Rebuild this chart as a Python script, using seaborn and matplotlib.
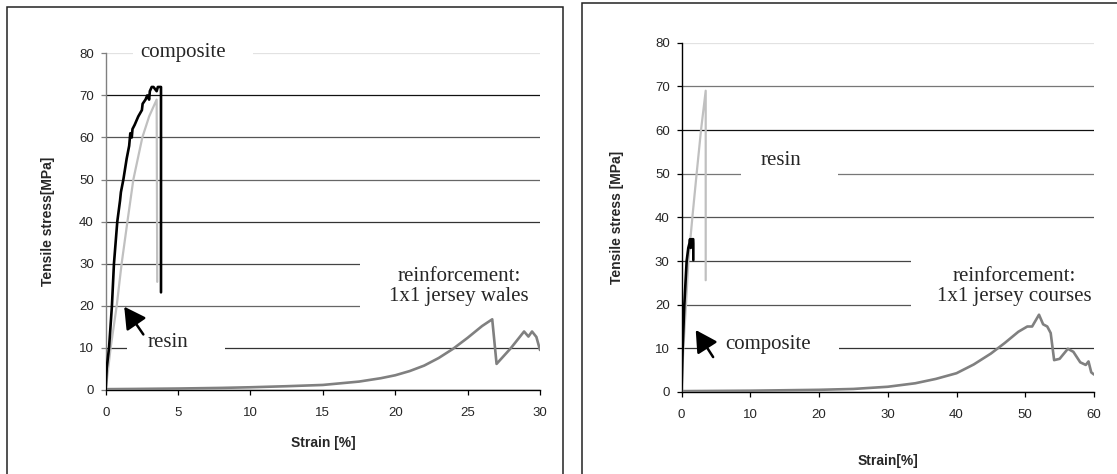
import numpy as np
import pandas as pd
import matplotlib
matplotlib.use("Agg")
import matplotlib.pyplot as plt
from matplotlib.patches import Rectangle
import seaborn as sns

# ---------------- data ----------------
# Left panel: reinforcement 1x1 jersey wales
left_comp_x = [0, 0.07, 0.23, 0.43, 0.57, 0.80, 0.99, 1.05, 1.22, 1.45, 1.62, 1.70, 1.80,
               1.85, 2.00, 2.25, 2.50, 2.55, 2.75, 2.87, 3.00, 3.05, 3.18, 3.30, 3.52, 3.60,
               3.82, 3.82]
left_comp_y = [0, 5.2, 10, 20, 30, 40, 45, 47, 50, 55, 58, 61, 60,
               62, 63, 65, 66.5, 68, 69, 70, 69, 71, 72, 72, 71, 72,
               72, 23.2]
left_resin_x = [0, 0.34, 0.76, 1.10, 1.50, 1.91, 2.53, 3.00, 3.52, 3.56]
left_resin_y = [0, 10, 20, 30, 40, 50, 60, 65, 69, 25.7]
left_reinf_x = [0, 2, 5, 8, 10, 12.5, 15, 17.5, 19, 20, 21, 22, 23, 24, 25, 26, 26.7,
                27.0, 28, 28.9, 29.2, 29.45, 29.75, 30]
left_reinf_y = [0.2, 0.25, 0.35, 0.5, 0.65, 0.9, 1.2, 2.0, 2.8, 3.5, 4.5, 5.8, 7.6, 9.8,
                12.4, 15.2, 16.8, 6.2, 10.0, 13.9, 12.7, 13.9, 12.6, 9.5]

# Right panel: reinforcement 1x1 jersey courses
right_comp_x = [0, 0.17, 0.41, 0.75, 0.99, 1.15, 1.24, 1.35, 1.40, 1.50, 1.60, 1.70, 1.72, 1.72]
right_comp_y = [0, 10, 20, 30, 33, 34, 35, 33, 35, 34, 35, 35, 34, 30.2]
right_resin_x = [0, 0.27, 0.65, 1.00, 1.58, 2.20, 2.84, 3.52, 3.52]
right_resin_y = [0, 10, 20, 30, 40, 50, 60, 69, 25.6]
right_reinf_x = [0, 5, 10, 15, 20, 25, 30, 34, 37, 40, 42.5, 45, 47, 49, 50.3, 51.0, 52.0,
                 52.6, 53.2, 53.7, 54.2, 55.0, 56.2, 57.0, 58.0, 58.8, 59.2, 59.6, 60]
right_reinf_y = [0.2, 0.25, 0.3, 0.4, 0.5, 0.7, 1.2, 2.0, 3.0, 4.3, 6.3, 8.8, 11.2, 13.8,
                 15.0, 15.0, 17.7, 15.5, 15.0, 13.5, 7.3, 7.6, 9.9, 9.2, 6.8, 6.2, 7.0, 4.5, 4.0]

y_ticks = [0, 10, 20, 30, 40, 50, 60, 70, 80]
left_x_ticks = [0, 5, 10, 15, 20, 25, 30]
right_x_ticks = [0, 10, 20, 30, 40, 50, 60]

left_xlabel = "Strain [%]"
right_xlabel = "Strain[%]"
left_ylabel = "Tensile stress[MPa]"
right_ylabel = "Tensile stress [MPa]"

# ---------------- style ----------------
sns.set_theme(style="white")
plt.rcParams["font.family"] = ["Liberation Sans", "DejaVu Sans"]
SERIF = ["Liberation Serif", "DejaVu Serif"]

C_COMP = "#000000"
C_RESIN = "#c0c0c0"
C_REINF = "#808080"

fig = plt.figure(figsize=(11.17, 4.74), dpi=100)
W, H = 1117, 474


def ax_rect(x0, x1, ytop, ybot):
    return [x0 / W, 1 - ybot / H, (x1 - x0) / W, (ybot - ytop) / H]


axL = fig.add_axes(ax_rect(105.7, 540, 53.3, 390))
axR = fig.add_axes(ax_rect(681.5, 1094, 42.7, 392))

# outer frames around each panel
fig.add_artist(Rectangle((7.3 / W, -0.05), (562.7 - 7.3) / W, 1.05 - 6.7 / H,
                         transform=fig.transFigure, fill=False, edgecolor="#222222", lw=1.1))
fig.add_artist(Rectangle((581.7 / W, -0.05), 0.5, 1.05 - 2.7 / H,
                         transform=fig.transFigure, fill=False, edgecolor="#222222", lw=1.1))


def draw(ax, cx, cy, rx, ry, fx, fy):
    df_f = pd.DataFrame({"x": fx, "y": fy})
    df_r = pd.DataFrame({"x": rx, "y": ry})
    df_c = pd.DataFrame({"x": cx, "y": cy})
    sns.lineplot(data=df_f, x="x", y="y", sort=False, estimator=None, ax=ax,
                 color=C_REINF, lw=1.9, zorder=3)
    sns.lineplot(data=df_r, x="x", y="y", sort=False, estimator=None, ax=ax,
                 color=C_RESIN, lw=1.6, zorder=3)
    sns.lineplot(data=df_c, x="x", y="y", sort=False, estimator=None, ax=ax,
                 color=C_COMP, lw=1.9, zorder=4)


draw(axL, left_comp_x, left_comp_y, left_resin_x, left_resin_y, left_reinf_x, left_reinf_y)
draw(axR, right_comp_x, right_comp_y, right_resin_x, right_resin_y, right_reinf_x, right_reinf_y)

grid_colors = {
    axL: ["#444444", "#333333", "#666666", "#444444", "#333333", "#666666", "#555555", "#111111", "#e2e2e2"],
    axR: ["#444444", "#333333", "#555555", "#444444", "#555555", "#777777", "#111111", "#777777", "#e2e2e2"],
}

for ax, xt, xl, yl, spine_l, xlab_y, ylab_x in [
    (axL, left_x_ticks, left_xlabel, left_ylabel, "#808080", -0.157, -0.133),
    (axR, right_x_ticks, right_xlabel, right_ylabel, "#000000", -0.1975, -0.156),
]:
    ax.set_xlim(xt[0], xt[-1])
    ax.set_ylim(y_ticks[0], y_ticks[-1])
    ax.set_xticks(xt)
    ax.set_yticks(y_ticks)
    ax.set_axisbelow(True)
    ax.grid(axis="y", lw=0.9)
    ax.grid(axis="x", visible=False)
    for gl, c in zip(ax.yaxis.get_gridlines(), grid_colors[ax]):
        gl.set_color(c)
    for s in ["top", "right"]:
        ax.spines[s].set_visible(False)
    ax.spines["left"].set_color(spine_l)
    ax.spines["bottom"].set_color("#000000")
    ax.spines["left"].set_linewidth(1.0)
    ax.spines["bottom"].set_linewidth(1.0)
    ax.tick_params(axis="y", direction="out", length=3.5, width=0.9, color=spine_l,
                   labelsize=9.5, pad=5, left=True)
    ax.tick_params(axis="x", direction="out", length=3.5, width=0.9, color="#000000",
                   labelsize=9.5, pad=9, bottom=True)
    ax.set_xlabel(xl, fontsize=10, fontweight="bold")
    ax.set_ylabel(yl, fontsize=10, fontweight="bold")
    ax.xaxis.set_label_coords(0.5, xlab_y)
    ax.xaxis.label.set_va("center")
    ax.yaxis.set_label_coords(ylab_x, 0.5)
    ax.yaxis.label.set_va("center")


def label(ax, x, y, s, box):
    bx0, bx1, by0, by1 = box
    ax.add_patch(Rectangle((bx0, by0), bx1 - bx0, by1 - by0, facecolor="white",
                           edgecolor="none", zorder=1.5, clip_on=False))
    ax.text(x, y, s, family=SERIF, fontsize=15, ha="center", va="center",
            linespacing=1.05, zorder=5)


ARROW = dict(arrowstyle="-|>,head_length=0.65,head_width=0.36", mutation_scale=20,
             color="black", lw=1.8, shrinkA=0, shrinkB=0)

# left panel annotations
label(axL, 5.37, 80.3, "composite", (1.9, 10.2, 77, 83.5))
label(axL, 4.3, 11.2, "resin", (1.46, 8.24, 5, 16))
label(axL, 24.4, 24.6, "reinforcement:\n1x1 jersey wales", (17.6, 30.6, 18, 32))
axL.annotate("", xy=(1.28, 19.8), xytext=(2.6, 13.2), arrowprops=ARROW, zorder=6)

# right panel annotations
label(axR, 14.47, 53.1, "resin", (8.65, 22.8, 46, 57))
label(axR, 12.65, 10.8, "composite", (3.4, 22.9, 5, 16))
label(axR, 48.4, 24.2, "reinforcement:\n1x1 jersey courses", (33.4, 62.5, 18.5, 32))
axR.annotate("", xy=(2.07, 14.2), xytext=(4.6, 8.0), arrowprops=ARROW, zorder=6)

fig.savefig("out.png", dpi=100)
